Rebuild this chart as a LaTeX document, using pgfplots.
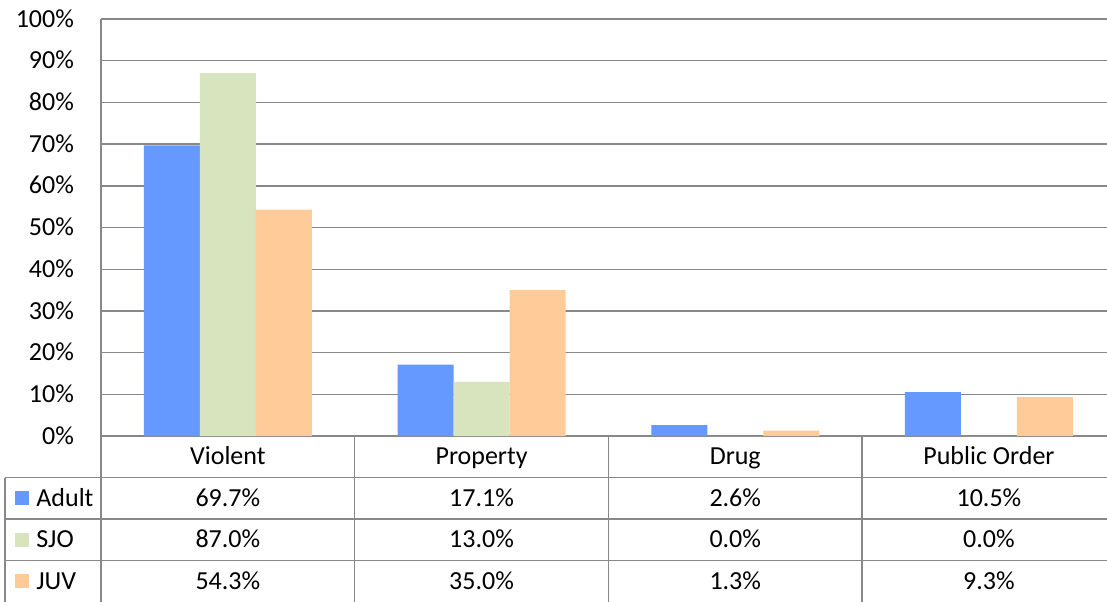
\documentclass[border=0pt]{standalone}
\usepackage{pgfplots}
\pgfplotsset{compat=1.18}
\usepackage{fontspec}
\setmainfont{Carlito}
\definecolor{cAdult}{RGB}{102,153,255}
\definecolor{cSJO}{RGB}{215,228,189}
\definecolor{cJUV}{RGB}{255,204,153}
\definecolor{lg}{RGB}{136,136,136}
\begin{document}
\fontsize{13}{15.6}\selectfont
\begin{tikzpicture}[every node/.style={text height=0.73em, text depth=0.1em}]
\path[use as bounding box] (-50.5pt,-82.5pt) rectangle (503pt,218pt);
\begin{axis}[
  at={(0pt,0pt)}, anchor=south west,
  scale only axis, width=507.4pt, height=208.5pt,
  xmin=-0.5, xmax=3.5, ymin=0, ymax=100,
  xtick=\empty,
  ytick={0,10,...,100},
  yticklabel={\pgfmathprintnumber{\tick}\%},
  /pgf/number format/assume math mode=true,
  yticklabel style={font=\fontsize{13}{15.6}\selectfont, xshift=-9pt},
  major tick length=0pt,
  ymajorgrids, grid style={lg, line width=0.7pt},
  axis line style={lg, line width=0.7pt},
  axis x line*=bottom, axis y line*=left,
  ybar=0pt, bar width=28pt,
  enlarge x limits=false,
]
\addplot[fill=cAdult, draw=none] coordinates {(0,69.7) (1,17.1) (2,2.6) (3,10.5)};
\addplot[fill=cSJO, draw=none] coordinates {(0,87.0) (1,13.0) (2,0.0) (3,0.0)};
\addplot[fill=cJUV, draw=none] coordinates {(0,54.3) (1,35.0) (2,1.3) (3,9.3)};
\end{axis}
% data table
\begin{scope}[lg, line width=0.7pt]
\foreach \y in {-20.75,-41.5,-62.25} \draw (-48pt,\y pt) -- (508pt,\y pt);
\draw (-48pt,-20.75pt) -- (-48pt,-83pt);
\foreach \x in {0,126.85,253.7,380.55} \draw (\x pt,0pt) -- (\x pt,-83pt);
\end{scope}
\foreach \x/\c in {63.425/Violent,190.275/Property,317.125/Drug,443.975/Public Order}
  \node at (\x pt,-10.4pt) {\c};
\foreach \x/\a/\s/\j in {63.425/69.7/87.0/54.3,190.275/17.1/13.0/35.0,317.125/2.6/0.0/1.3,443.975/10.5/0.0/9.3}{
  \node at (\x pt,-31.1pt) {\a\%};
  \node at (\x pt,-51.9pt) {\s\%};
  \node at (\x pt,-72.6pt) {\j\%};
}
\foreach \y/\n/\c in {-31.1/Adult/cAdult,-51.9/SJO/cSJO,-72.6/JUV/cJUV}{
  \fill[\c] (-43pt,\y pt-3.5pt) rectangle (-36pt,\y pt+3.5pt);
  \node[anchor=west, inner sep=0pt] at (-32.5pt,\y pt) {\n};
}
\end{tikzpicture}
\end{document}
